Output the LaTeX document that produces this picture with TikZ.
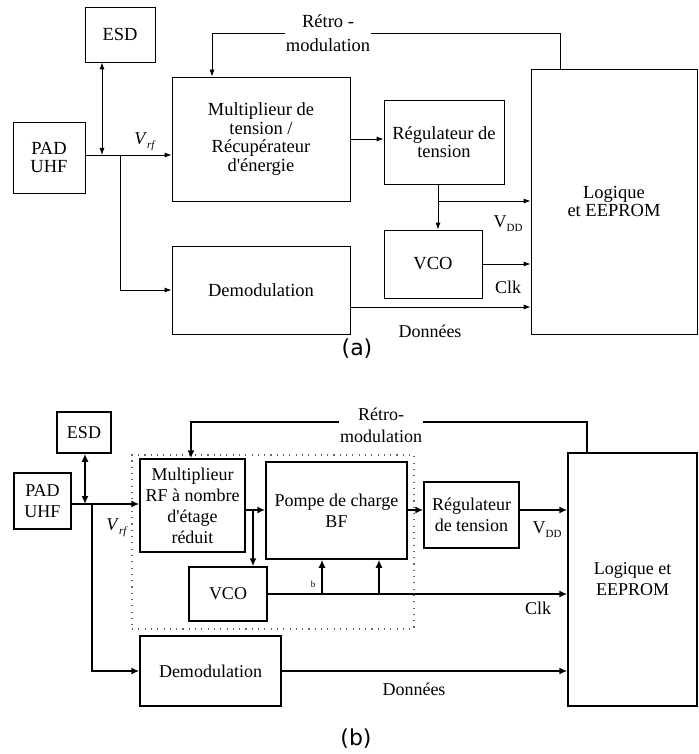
\documentclass[tikz,border=0pt]{standalone}
\usepackage{fontspec}
\setmainfont{Liberation Serif}
\newfontfamily\capfont{DejaVu Sans}
\usetikzlibrary{arrows.meta,positioning}
\newcommand{\lsub}[1]{\raisebox{-0.5ex}{\fontsize{11}{11}\selectfont #1}}

\begin{document}
\begin{tikzpicture}[x=1pt, y=-1pt,
    box/.style={draw, align=center, inner sep=0pt},
    boxa/.style={box, line width=0.8pt, font=\fontsize{18.5}{18.5}\selectfont},
    boxb/.style={box, line width=1.5pt, font=\fontsize{18}{21}\selectfont},
    lbl/.style={inner sep=1pt, font=\fontsize{18}{22}\selectfont},
    captext/.style={font=\capfont\fontsize{22}{24}\selectfont},
    wirea/.style={line width=0.8pt, >={Latex[length=7pt,width=5pt]}},
    wireb/.style={line width=1.5pt, >={Latex[length=8pt,width=7pt]}},
    group/.style={draw, gray!80!black, line width=1.1pt, dash pattern=on 1.1pt off 5.2pt}]
    \useasboundingbox (0,0) rectangle (698,754);

    % (a)
    \node[boxa, minimum width=70, minimum height=55] (esdA) at (120,34.5) {ESD};
    \node[boxa, minimum width=72, minimum height=71] (padA) at (49,157.5) {PAD\\UHF};
    \node[boxa, minimum width=178, minimum height=124] (multA) at (261,139) {Multiplieur de\\tension /\\Récupérateur\\d\textquotesingle énergie};
    \node[boxa, minimum width=120, minimum height=84] (regA) at (444,142) {Régulateur de\\tension};
    \node[boxa, minimum width=98, minimum height=68] (vcoA) at (433,264) {VCO};
    \node[boxa, minimum width=178, minimum height=88] (demA) at (261,290) {Demodulation};
    \node[boxa, minimum width=166, minimum height=265] (logA) at (614,201.5) {Logique\\et EEPROM};

    \coordinate (jA) at (102,155);
    \coordinate (bA) at (120,155);
    \coordinate (rA) at (560,33);
    \coordinate (rA2) at (212,33);
    \coordinate (vddA) at (438,201);
    \coordinate (datA) at (0,307);
    \draw[wirea, <->] (esdA.south -| jA) -- (jA);
    \draw[wirea, ->] (padA.east |- jA) -- (multA.west |- jA);
    \draw[wirea, ->] (bA) |- (demA.west);
    \draw[wirea, ->] (logA.north -| rA) -- (rA) -- (rA2) -- (multA.north -| rA2);
    \node[lbl, fill=white, align=center, font=\fontsize{18.5}{24}\selectfont] (retroA) at (328,33) {Rétro -\\modulation};
    \draw[wirea, ->] (multA.east) -- (regA.west |- multA.east);
    \draw[wirea, ->] (regA.south -| vddA) -- (vcoA.north -| vddA);
    \draw[wirea, ->] (vddA) -- (logA.west |- vddA);
    \draw[wirea, ->] (vcoA.east) -- (logA.west |- vcoA.east);
    \draw[wirea, ->] (demA.east |- datA) -- (logA.west |- datA);
    \node[lbl] (vrfA) at (145,142) {\textit{V}\lsub{\textit{rf}}};
    \node[lbl] (vdA) at (508,224) {V\lsub{DD}};
    \node[lbl] (clkA) at (508,287) {Clk};
    \node[lbl] (donA) at (430,331) {Données};
    \node[captext] (capA) at (357,349) {(a)};

    % (b)
    \node[group, minimum width=282, minimum height=174] (grp) at (273,542) {};
    \node[boxb, minimum width=54, minimum height=41] (esdB) at (84,432.5) {ESD};
    \node[boxb, minimum width=57, minimum height=56] (padB) at (42.5,501) {PAD\\UHF};
    \node[boxb, minimum width=105, minimum height=93] (multB) at (192.5,505.5) {Multiplieur\\RF à nombre\\d\textquotesingle étage\\réduit};
    \node[boxb, minimum width=141, minimum height=97] (pompB) at (336.5,510.5) {Pompe de charge\\BF};
    \node[boxb, minimum width=95, minimum height=66] (regB) at (471.5,515) {Régulateur\\de tension};
    \node[boxb, minimum width=78, minimum height=54] (vcoB) at (228,594) {VCO};
    \node[boxb, minimum width=141, minimum height=70] (demB) at (210.5,671) {Demodulation};
    \node[boxb, minimum width=129, minimum height=253] (logB) at (632.5,579.5) {Logique et\\EEPROM};

    \coordinate (jB) at (85,504);
    \coordinate (bB) at (92,504);
    \coordinate (rB) at (587,422);
    \coordinate (rB2) at (191,422);
    \coordinate (pB) at (253,510);
    \coordinate (ck1) at (322,594);
    \coordinate (ck2) at (379,594);
    \draw[wireb, <->] (esdB.south -| jB) -- (jB);
    \draw[wireb, ->] (padB.east |- jB) -- (multB.west |- jB);
    \draw[wireb, ->] (bB) |- (demB.west);
    \draw[wireb, ->] (logB.north -| rB) -- (rB) -- (rB2) -- (multB.north -| rB2);
    \node[lbl, fill=white, align=center] (retroB) at (381,425) {Rétro-\\modulation};
    \draw[wireb, ->] (multB.east |- pB) -- (pompB.west |- pB);
    \draw[wireb, ->] (pB) -- (vcoB.north -| pB);
    \draw[wireb, ->] (pompB.east |- pB) -- (regB.west |- pB);
    \draw[wireb, ->] (regB.east |- pB) -- (logB.west |- pB);
    \draw[wireb, ->] (vcoB.east) -- (logB.west |- vcoB.east);
    \draw[wireb, ->] (ck1) -- (pompB.south -| ck1);
    \draw[wireb, ->] (ck2) -- (pompB.south -| ck2);
    \draw[wireb, ->] (demB.east) -- (logB.west |- demB.east);
    \node[lbl] (vrfB) at (117,528) {\textit{V}\lsub{\textit{rf}}};
    \node[lbl] (vdB) at (547,530) {V\lsub{DD}};
    \node[lbl] (clkB) at (538,608) {Clk};
    \node[lbl] (donB) at (414,689) {Données};
    \node[inner sep=0pt, font=\fontsize{9}{9}\selectfont] (bl) at (313,584) {b};
    \node[captext] (capB) at (356,739) {(b)};
\end{tikzpicture}
\end{document}
